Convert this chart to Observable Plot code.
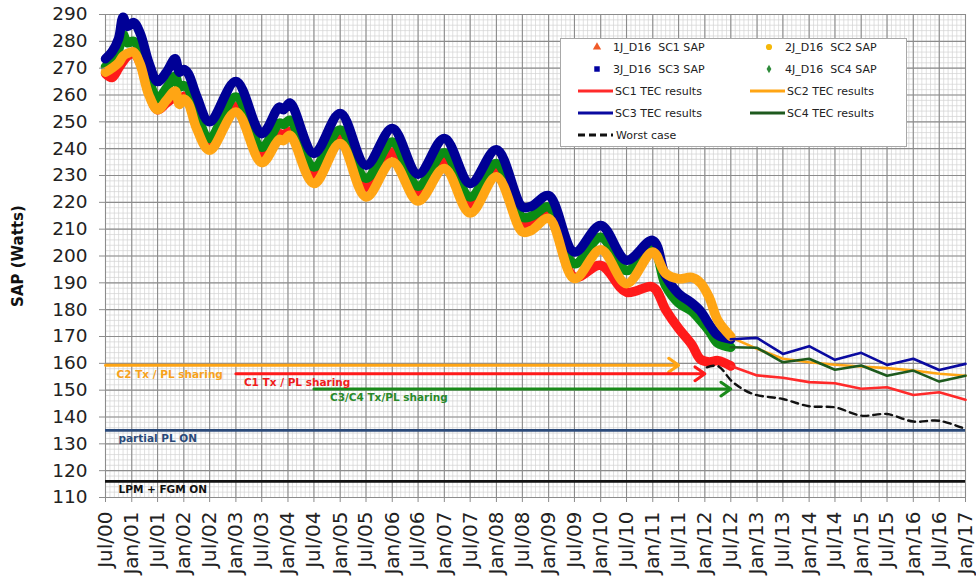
<!DOCTYPE html>
<html>
<head>
<meta charset="utf-8">
<script src="https://cdn.jsdelivr.net/npm/d3@7"></script>
<script src="https://cdn.jsdelivr.net/npm/@observablehq/plot@0.6"></script>
<style>
  html, body { margin: 0; padding: 0; background: #fff; }
  #chart svg { display: block; }
</style>
</head>
<body>
<div id="chart"></div>
<script>
// Axis ticks
const xTickLabels = ["Jul/00","Jan/01","Jul/01","Jan/02","Jul/02","Jan/03","Jul/03","Jan/04","Jul/04",
  "Jan/05","Jul/05","Jan/06","Jul/06","Jan/07","Jul/07","Jan/08","Jul/08","Jan/09","Jul/09",
  "Jan/10","Jul/10","Jan/11","Jul/11","Jan/12","Jul/12","Jan/13","Jul/13","Jan/14","Jul/14",
  "Jan/15","Jul/15","Jan/16","Jul/16","Jan/17"];
const yTicks = [110,120,130,140,150,160,170,180,190,200,210,220,230,240,250,260,270,280,290];

// Measured solar array power (W) per string-channel, shared sampling dates
const sapDates = ["2000-07-01","2000-08-15","2000-10-01","2000-11-01","2000-12-01","2001-01-15","2001-03-01",
  "2001-05-01","2001-07-01","2001-09-01","2001-11-01","2001-12-01","2002-01-01","2002-02-01","2002-04-01",
  "2002-07-01","2003-01-01","2003-07-01","2003-11-01","2003-12-01","2004-01-15","2004-07-01","2005-01-01",
  "2005-07-01","2006-01-01","2006-07-01","2007-01-01","2007-07-01","2008-01-01","2008-07-01","2008-09-01",
  "2009-01-01","2009-07-01","2010-01-01","2010-07-01","2011-01-01","2011-04-01","2011-07-01","2011-10-01",
  "2011-12-01","2012-02-01","2012-04-01","2012-07-01"];
const sc1Sap = [268,266.5,270,272.5,274.5,275.5,272,261,254.5,257,259,257.5,259.5,258.5,249.5,
  241.3,255.6,237.5,245.5,245,246.5,230,243.8,225.7,238.8,223,235.5,219.5,232,212,212.5,
  215.8,192.1,196.5,186.5,188.4,180,173,167,161.5,160.5,161,159];
const sc2Sap = [268.5,270,272,274.5,275.5,276,271.5,260,254.5,258,261.5,256.5,258.5,257,247.5,
  239.4,253.7,234.8,243.5,243,245,227,241.9,222,235,220.5,232.6,216,229.5,209,209.5,
  214,191.6,202.3,189.7,201.5,193.5,191.5,192,190,184.5,176,170];
const sc3Sap = [273.5,276,281,289,285.5,287,283,272,265,268.5,273.5,268.5,269.5,268,259.5,
  250,265,245.6,255.5,254.5,257,238.2,253.1,233.8,247.5,230.5,243.8,227,239.6,218.3,218.5,
  222.5,201.5,211.4,198.4,205.8,192.5,186,182.5,179.5,174.5,170.5,169];
const sc4Sap = [270.5,272,277,282.5,279.5,280,276.5,265.5,258.7,262.5,267,263,263.5,262.5,253,
  243.8,259.3,240.5,249.5,249,250.6,233.2,247,229,242.5,226,238.5,222,234.5,214.5,214.8,
  218.3,197.1,207,194.6,202.7,189,182.5,179.5,176,172,167.5,166];

// Predicted power from the thermal-electrical model
const tecDates = ["2012-07-01","2013-01-01","2013-07-01","2014-01-01","2014-07-01","2015-01-01",
  "2015-07-01","2016-01-01","2016-07-01","2017-01-01"];
const sc1Tec = [159,155.5,154.6,153,152.6,150.5,151.1,148.2,149.2,146.4];
const sc2Tec = [169.7,165.4,161.7,160.4,159.5,158.8,158.2,157.3,156.1,155.4];
const sc3Tec = [169,169.5,163.5,166.4,161.3,163.9,159.4,161.7,157.5,159.8];
const sc4Tec = [166,165.8,160.4,161.7,157.6,159.2,155.4,157.3,153.2,155.4];

// Worst-case prediction
const worstDates = ["2012-01-15","2012-04-01","2012-07-15","2012-12-01","2013-07-01","2014-01-01",
  "2014-07-01","2015-01-01","2015-07-01","2016-01-01","2016-07-01","2017-01-01"];
const worstCase = [158.5,159,153,148.6,146.7,144,143.6,140.5,141.1,138.3,138.6,135.5];

// Transmitter / payload sharing thresholds
const sharingLabels = ["C2 Tx / PL sharing", "C1 Tx / PL sharing", "C3/C4 Tx/PL sharing"];
const sharingStart = ["2000-07-01", "2003-01-01", "2004-07-01"];
const sharingEnd = ["2011-07-01", "2012-01-01", "2012-07-01"];
const sharingLevel = [159.3, 156.1, 150.4];

// Operating-mode power levels
const levelLabels = ["partial PL ON", "LPM + FGM ON"];
const levelValues = [135, 116];

const parseDate = d3.utcParse("%Y-%m-%d");
const parseTick = d3.utcParse("%b/%y");
const xTicks = xTickLabels.map(parseTick);
const x0 = xTicks[0], x1 = xTicks[xTicks.length - 1];

const minorMonths = d3.utcMonth.range(x0, d3.utcMonth.offset(x1, 1));
const minorValues = d3.range(110, 291, 2);

const series = (dates, values) => dates.map((d, i) => ({date: parseDate(d), value: values[i]}));

const sapColors = {sc1: "#ff1a1a", sc2: "#ffa514", sc3: "#000096", sc4: "#0a8c14"};
const tecColors = {sc1: "#ff2a2a", sc2: "#ffa514", sc3: "#0a0aa0", sc4: "#1e5a1e"};
const sharingColors = ["#ffa514", "#ff1a1a", "#1a8a1a"];
const sharingLabelColors = ["#f7a21c", "#f01c1c", "#2a8a2a"];
const sharingLabelShift = [11, 8, 16];
const levelColors = ["#2b4a7a", "#111111"];

const sapLine = (values, color) => Plot.line(series(sapDates, values), {
  x: "date", y: "value", stroke: color, strokeWidth: 9.5, curve: "catmull-rom",
  strokeLinecap: "round", strokeLinejoin: "round"
});
const tecLine = (values, color) => Plot.line(series(tecDates, values), {
  x: "date", y: "value", stroke: color, strokeWidth: 2.6, strokeLinejoin: "round"
});

const sharingRows = sharingLabels.map((label, i) => ({
  label, start: parseDate(sharingStart[i]), end: parseDate(sharingEnd[i]),
  level: sharingLevel[i], color: sharingColors[i]
}));
const levelRows = levelLabels.map((label, i) => ({
  label, level: levelValues[i], color: levelColors[i]
}));

const chart = Plot.plot({
  width: 976,
  height: 579,
  marginLeft: 105,
  marginRight: 11,
  marginTop: 14,
  marginBottom: 82,
  style: {fontFamily: "DejaVu Sans, Verdana, sans-serif", fontSize: "18px", background: "#fff", color: "#222"},
  x: {type: "utc", domain: [x0, x1]},
  y: {domain: [110, 290]},
  color: {type: "identity"},
  marks: [
    // fine grid
    Plot.ruleX(minorMonths, {stroke: "#d3d3d3", strokeWidth: 0.7}),
    Plot.ruleY(minorValues, {stroke: "#d3d3d3", strokeWidth: 0.7}),
    // major grid
    Plot.ruleX(xTicks, {stroke: "#8c8c8c", strokeWidth: 1.1}),
    Plot.ruleY(yTicks, {stroke: "#8c8c8c", strokeWidth: 1.1}),
    // mode levels
    Plot.ruleY(levelRows, {y: "level", stroke: "color", strokeWidth: 2.8}),
    Plot.text(levelRows, {x: () => x0, y: "level", text: "label", fill: "color", dx: 13, dy: 8.5,
      textAnchor: "start", fontWeight: "bold", fontSize: 10.5}),
    // measured SAP
    sapLine(sc1Sap, sapColors.sc1),
    sapLine(sc4Sap, sapColors.sc4),
    sapLine(sc3Sap, sapColors.sc3),
    sapLine(sc2Sap, sapColors.sc2),
    // TEC predictions
    tecLine(sc1Tec, tecColors.sc1),
    tecLine(sc2Tec, tecColors.sc2),
    tecLine(sc4Tec, tecColors.sc4),
    tecLine(sc3Tec, tecColors.sc3),
    Plot.line(series(worstDates, worstCase), {x: "date", y: "value", stroke: "#111", strokeWidth: 2.4,
      strokeDasharray: "7,5", curve: "catmull-rom"}),
    // sharing thresholds
    Plot.arrow(sharingRows, {x1: "start", x2: "end", y1: "level", y2: "level", stroke: "color",
      strokeWidth: 3, headLength: 6, headAngle: 70}),
    ...sharingRows.map((row, i) => Plot.text([row], {x: "start", y: "level", text: "label",
      fill: sharingLabelColors[i], dx: sharingLabelShift[i], dy: 9, textAnchor: "start",
      fontWeight: "bold", fontSize: 10.5})),
    // axes
    Plot.axisY({ticks: yTicks, tickSize: 6, tickPadding: 12, fontSize: 18.5, label: null, stroke: "#8c8c8c"}),
    Plot.axisX({ticks: xTicks, tickFormat: d3.utcFormat("%b/%y"), tickRotate: -90, tickSize: 5,
      tickPadding: 9, fontSize: 20, label: null, stroke: "#8c8c8c"}),
    Plot.text([0], {frameAnchor: "left", text: () => "SAP (Watts)", rotate: -90, dx: -87,
      textAnchor: "middle", fontWeight: "bold", fontSize: 15, fill: "#111"})
  ]
});

document.getElementById("chart").append(chart);

// Legend box
const legendItems = [
  {label: "1J_D16  SC1 SAP", symbol: d3.symbolTriangle, color: "#f05a28"},
  {label: "2J_D16  SC2 SAP", symbol: d3.symbolCircle, color: "#f5b80a"},
  {label: "3J_D16  SC3 SAP", symbol: d3.symbolSquare, color: "#0000a0"},
  {label: "4J_D16  SC4 SAP", symbol: d3.symbolDiamond, color: "#2e8b3a"},
  {label: "SC1 TEC results", line: tecColors.sc1},
  {label: "SC2 TEC results", line: tecColors.sc2},
  {label: "SC3 TEC results", line: tecColors.sc3},
  {label: "SC4 TEC results", line: tecColors.sc4},
  {label: "Worst case", line: "#111", dash: "7,4"}
];
const svg = d3.select(chart);
const lg = svg.append("g")
  .attr("font-family", "DejaVu Sans, Verdana, sans-serif")
  .attr("font-size", 11)
  .attr("text-anchor", "start")
  .attr("fill", "#222");
lg.append("rect").attr("x", 560.5).attr("y", 38.5).attr("width", 346).attr("height", 108)
  .attr("fill", "#fff").attr("stroke", "#a8a8a8");
legendItems.forEach((item, i) => {
  const col = i % 2, row = Math.floor(i / 2);
  const cy = 47 + row * 22;
  const base = col === 0 ? 578 : 750;
  if (item.symbol) {
    lg.append("path")
      .attr("d", d3.symbol(item.symbol, item.symbol === d3.symbolDiamond ? 20 : 30)())
      .attr("transform", `translate(${base + 19},${cy})`)
      .attr("fill", item.color);
    lg.append("text").attr("x", base + 35).attr("y", cy).attr("dy", "0.35em")
      .attr("text-anchor", "start")
      .style("white-space", "pre").text(item.label);
  } else {
    lg.append("line").attr("x1", base).attr("x2", base + 35).attr("y1", cy).attr("y2", cy)
      .attr("stroke", item.line).attr("stroke-width", 3)
      .attr("stroke-dasharray", item.dash || null);
    lg.append("text").attr("x", base + (item.dash ? 38 : 37)).attr("y", cy).attr("dy", "0.35em")
      .attr("text-anchor", "start")
      .text(item.label);
  }
});
</script>
</body>
</html>
